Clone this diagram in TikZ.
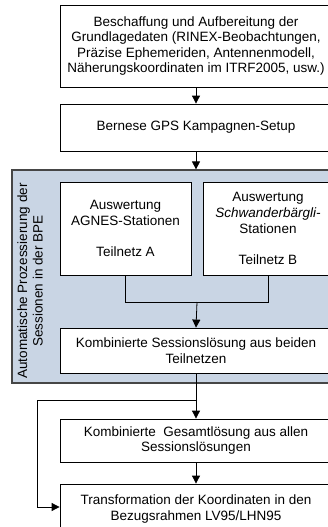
\documentclass[tikz,border=0pt]{standalone}
\usepackage{fontspec}
\setmainfont{Liberation Sans}
\usetikzlibrary{arrows.meta}
\definecolor{bpeblue}{RGB}{201,213,228}
\definecolor{bpeline}{RGB}{70,70,70}
\begin{document}
\begin{tikzpicture}[x=1pt,y=-1pt,
  box/.style={draw=black,line width=0.8pt,fill=white,align=center,inner sep=0pt,
    font=\fontsize{13.5}{15.6}\selectfont},
  conn/.style={draw=black,line width=0.8pt},
  arr/.style={conn,-{Triangle[length=8pt,width=8pt]}}]
\useasboundingbox (0,0) rectangle (328,527);
% background region
\node[draw=bpeline,line width=1.2pt,fill=bpeblue,minimum width=320pt,minimum height=213pt,inner sep=0pt] (bpe) at (172,276.5) {};
\node[rotate=90,align=center,font=\fontsize{13.5}{15.6}\selectfont] (bpelabel) at (30,281)
  {Automatische Prozessierung der\\Sessionen in der BPE};
% boxes
\node[box,minimum width=272pt,minimum height=82pt] (b1) at (196,46)
  {Beschaffung und Aufbereitung der\\Grundlagedaten (RINEX-Beobachtungen,\\Präzise Ephemeriden, Antennenmodell,\\Näherungskoordinaten im ITRF2005, usw.)};
\node[box,minimum width=272pt,minimum height=47pt] (b2) at (196,127.5)
  {Bernese GPS Kampagnen-Setup};
\node[box,minimum width=131pt,minimum height=93pt] (ba) at (125.5,228.5)
  {Auswertung\\AGNES-Stationen\\[15.6pt]Teilnetz A};
\node[box,minimum width=130pt,minimum height=93pt] (bb) at (268,228.5)
  {Auswertung\\\textit{Schwanderbärgli-}\\Stationen\\[15.6pt]Teilnetz B};
\node[box,minimum width=272pt,minimum height=45pt] (bc) at (196,350.5)
  {Kombinierte Sessionslösung aus beiden\\Teilnetzen};
\node[box,minimum width=272pt,minimum height=43pt] (bd) at (196,440.5)
  {Kombinierte\ \ Gesamtlösung aus allen\\Sessionslösungen};
\node[box,minimum width=272pt,minimum height=50pt] (be) at (196,509)
  {Transformation der Koordinaten in den\\Bezugsrahmen LV95/LHN95};
% connectors
\coordinate (join) at (197,302);
\coordinate (split) at (197,400);
\coordinate (corner1) at (37,400);
\coordinate (corner2) at (37,507);
\draw[arr] (b1.south) -- (b2.north);
\draw[arr] (b2.south) -- (b2.south |- bpe.north);
\draw[conn] (ba.south) |- (join);
\draw[conn] (bb.south) |- (join);
\draw[arr] (join) -- (bc.north);
\draw[arr] (bc.south) -- (bd.north);
\draw[conn] (split) -- (corner1) -- (corner2);
\draw[arr] (corner2) -- (corner2 -| be.west);
\draw[arr] (bd.south) -- (be.north);
\end{tikzpicture}
\end{document}
